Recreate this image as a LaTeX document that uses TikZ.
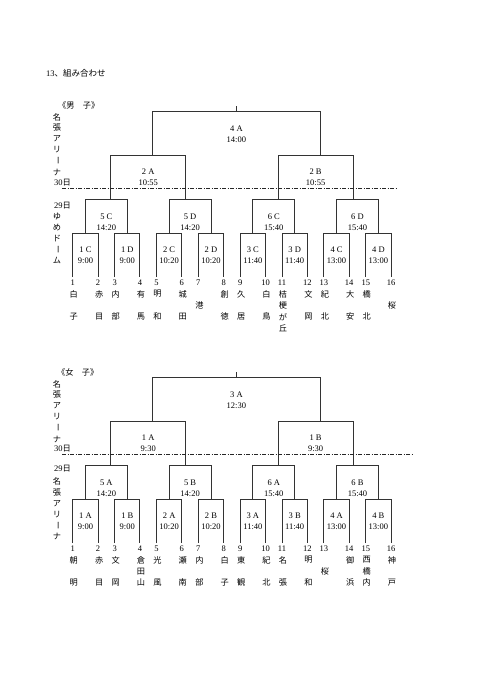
\documentclass[tikz,border=0pt]{standalone}
\usepackage{fontspec}
\setmainfont{Liberation Serif}
\newfontfamily\jp{Noto Sans CJK JP}
\usetikzlibrary{calc}

\begin{document}
\begin{tikzpicture}[
  x=1pt, y=-1pt,
  bline/.style={draw=black!80, line width=1pt},
  daybreak/.style={draw=black!85, line width=0.8pt,
    dash pattern=on 4pt off 1.5pt on 1pt off 1.5pt},
  game/.style={font=\fontsize{8.5}{10.8}\selectfont, align=center, inner sep=0pt},
  num/.style={font=\fontsize{8.5}{10}\selectfont, inner sep=0pt},
  kanji/.style={font=\jp\fontsize{8.2}{10}\selectfont, inner sep=0pt}
]
\useasboundingbox (0,0) rectangle (481,680);

% --- Title ---
\node[anchor=west, inner sep=0pt] (title) at (46,73)
  {\fontsize{8.5}{10}\selectfont 13\jp 、組み合わせ};

% --- Team positions (b = boys, g = girls, 266pt lower) ---
\foreach \s/\dy in {b/0,g/266} {
  \foreach \p in {0,...,7} {
    \pgfmathsetmacro\xl{72.8+41.85*\p}
    \pgfmathtruncatemacro\a{2*\p+1}
    \pgfmathtruncatemacro\b{2*\p+2}
    \coordinate (\s\a) at (\xl,277+\dy);
    \coordinate (\s\b) at (\xl+25.3,277+\dy);
  }
}

% --- Brackets ---
\foreach \s in {b,g} {
  % first round
  \foreach \p in {0,...,7} {
    \pgfmathtruncatemacro\a{2*\p+1}
    \pgfmathtruncatemacro\b{2*\p+2}
    \draw[bline] (\s\a) -- ++(0,-44) -| (\s\b);
    \coordinate (\s r\p) at ($(\s\a)!.5!(\s\b)+(0,-44)$);
  }
  % second round
  \foreach \q in {0,...,3} {
    \pgfmathtruncatemacro\a{2*\q}
    \pgfmathtruncatemacro\b{2*\q+1}
    \draw[bline] (\s r\a) -- ++(0,-34) -| (\s r\b);
    \coordinate (\s q\q) at ($(\s r\a)!.5!(\s r\b)+(0,-34)$);
  }
  % semi-finals (a little inside the boxes below)
  \foreach \h in {0,1} {
    \pgfmathtruncatemacro\a{2*\h}
    \pgfmathtruncatemacro\b{2*\h+1}
    \draw[bline] ($(\s q\a)+(4.25,0)$) -- ++(0,-44) -| ($(\s q\b)+(-4.25,0)$);
    \coordinate (\s h\h) at ($(\s q\a)!.5!(\s q\b)+(0,-44)$);
  }
  % final
  \draw[bline] ($(\s h0)+(4.5,0)$) -- ++(0,-44) -| ($(\s h1)+(4.5,0)$);
  \coordinate (\s top) at ($(\s h0)!.5!(\s h1)+(4.5,-44)$);
  \draw[bline] (\s top) -- ++(0,-5);
}

% --- Day change lines ---
\coordinate (bdl) at (62,188);
\coordinate (bdr) at (396.5,188);
\coordinate (gdl) at (62,454);
\coordinate (gdr) at (413,454);
\draw[daybreak] (bdl) -- (bdr);
\draw[daybreak] (gdl) -- (gdr);

% --- Boys: games ---
\foreach \g/\t [count=\i from 0] in {1 C/9:00,1 D/9:00,2 C/10:20,2 D/10:20,
    3 C/11:40,3 D/11:40,4 C/13:00,4 D/13:00} {
  \node[game] (bm\i) at ($(br\i)+(0,22.5)$) {\g\\\t};
}
\foreach \g/\t [count=\i from 0] in {5 C/14:20,5 D/14:20,6 C/15:40,6 D/15:40} {
  \node[game] (bqm\i) at ($(bq\i)+(0,23)$) {\g\\\t};
}
\foreach \g/\t [count=\i from 0] in {2 A/10:55,2 B/10:55} {
  \node[game] (bhm\i) at ($(bh\i)+(0,22.5)$) {\g\\\t};
}
\node[game] (bfinal) at ($(btop)+(0,23)$) {4 A\\14:00};

% --- Girls: games ---
\foreach \g/\t [count=\i from 0] in {1 A/9:00,1 B/9:00,2 A/10:20,2 B/10:20,
    3 A/11:40,3 B/11:40,4 A/13:00,4 B/13:00} {
  \node[game] (gm\i) at ($(gr\i)+(0,22.5)$) {\g\\\t};
}
\foreach \g/\t [count=\i from 0] in {5 A/14:20,5 B/14:20,6 A/15:40,6 B/15:40} {
  \node[game] (gqm\i) at ($(gq\i)+(0,23)$) {\g\\\t};
}
\foreach \g/\t [count=\i from 0] in {1 A/9:30,1 B/9:30} {
  \node[game] (ghm\i) at ($(gh\i)+(0,22.5)$) {\g\\\t};
}
\node[game] (gfinal) at ($(gtop)+(0,23)$) {3 A\\12:30};

% --- Team numbers ---
\foreach \s in {b,g} {
  \foreach \i in {1,...,16} {
    \node[num] (\s n\i) at ($(\s\i)+(0,6)$) {\i};
  }
}

% --- Team names (written top to bottom) ---
\foreach \n [count=\i] in {{白,,子},{赤,,目},{内,,部},{有,,馬},{明,,和},{城,,田},
    {,港,},{創,,徳},{久,,居},{白,,鳥},{桔,梗,が,丘},{文,,岡},{紀,,北},{大,,安},
    {橋,,北},{,桜,}} {
  \foreach \c [count=\r] in \n {
    \node[kanji] (bt\i-\r) at ($(b\i)+(1,17+11.4*\r-11.4)$) {\c};
  }
}
\foreach \n [count=\i] in {{朝,,明},{赤,,目},{文,,岡},{倉,田,山},{光,,風},{瀬,,南},
    {内,,部},{白,,子},{東,,観},{紀,,北},{名,,張},{明,,和},{,桜,},{御,,浜},
    {西,橋,内},{神,,戸}} {
  \foreach \c [count=\r] in \n {
    \node[kanji] (gt\i-\r) at ($(g\i)+(1,17+11.4*\r-11.4)$) {\c};
  }
}

% --- Boys: venue column ---
\node[kanji, anchor=west] (bhead) at (58,105) {《男　子》};
\foreach \c [count=\i] in {名,張,ア,リ,ー,ナ} {
  \ifnum\i=5 \def\rot{-90}\else \def\rot{0}\fi
  \node[kanji, rotate=\rot] (bv\i) at (57,106+11*\i) {\c};
}
\node[anchor=west, inner sep=0pt] (bday30) at (54,183)
  {\fontsize{8.5}{10}\selectfont 30\jp\fontsize{8.2}{10}\selectfont 日};
\node[anchor=west, inner sep=0pt] (bday29) at (54,206)
  {\fontsize{8.5}{10}\selectfont 29\jp\fontsize{8.2}{10}\selectfont 日};
\foreach \c [count=\i] in {ゆ,め,ド,ー,ム} {
  \ifnum\i=4 \def\rot{-90}\else \def\rot{0}\fi
  \node[kanji, rotate=\rot] (bw\i) at (57,206.2+10.8*\i) {\c};
}

% --- Girls: venue column ---
\node[kanji, anchor=west] (ghead) at (57,372.5) {《女　子》};
\foreach \c [count=\i] in {名,張,ア,リ,ー,ナ} {
  \ifnum\i=5 \def\rot{-90}\else \def\rot{0}\fi
  \node[kanji, rotate=\rot] (gv\i) at (57,373+11*\i) {\c};
}
\node[anchor=west, inner sep=0pt] (gday30) at (54,449)
  {\fontsize{8.5}{10}\selectfont 30\jp\fontsize{8.2}{10}\selectfont 日};
\node[anchor=west, inner sep=0pt] (gday29) at (54,469)
  {\fontsize{8.5}{10}\selectfont 29\jp\fontsize{8.2}{10}\selectfont 日};
\foreach \c [count=\i] in {名,張,ア,リ,ー,ナ} {
  \ifnum\i=5 \def\rot{-90}\else \def\rot{0}\fi
  \node[kanji, rotate=\rot] (gw\i) at (57,470.5+11*\i) {\c};
}

\end{tikzpicture}
\end{document}
